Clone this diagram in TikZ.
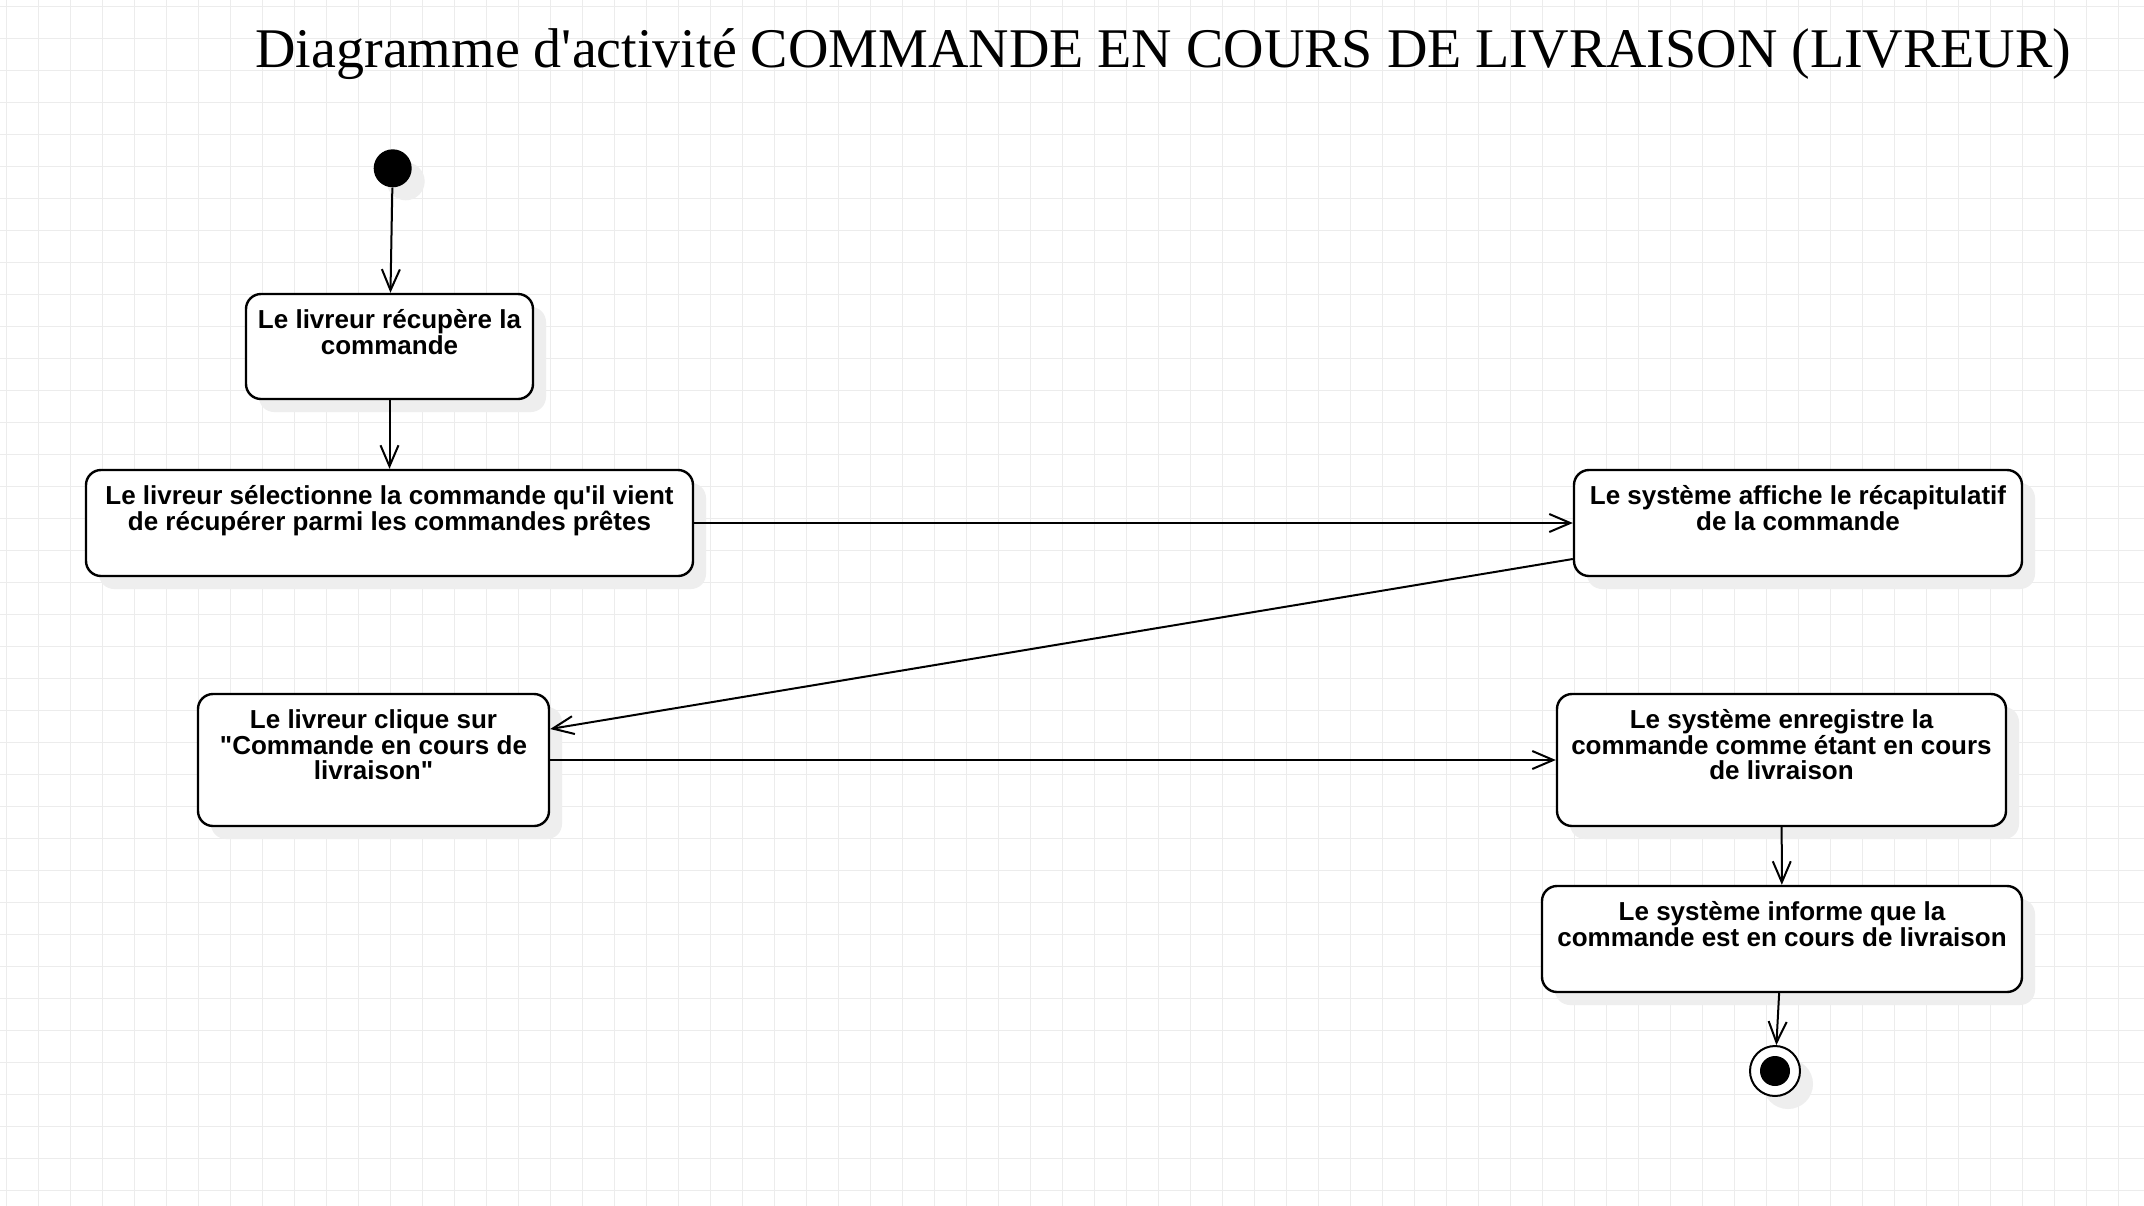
\documentclass[tikz,border=0pt]{standalone}
\usepackage{fontspec}
\setmainfont{Liberation Sans}
\newfontfamily\titlefont{Liberation Serif}
\usetikzlibrary{arrows.meta,shadows}
\definecolor{gridc}{RGB}{236,236,236}
\definecolor{shadowc}{RGB}{238,238,238}
\begin{document}
\begin{tikzpicture}[x=0.5pt,y=-0.5pt,
  shad/.style={drop shadow={shadow xshift=6.5pt,shadow yshift=-6.5pt,fill=shadowc,draw=none,opacity=1}},
  actbox/.style={draw=black,line width=1.2pt,rounded corners=7.5pt,fill=white,inner sep=0pt,shad},
  txt/.style={font=\bfseries\fontsize{13pt}{12.75pt}\selectfont,align=center,inner sep=0pt,anchor=base},
  startnode/.style={circle,fill=black,draw=none,minimum size=19pt,inner sep=0pt,shad},
  endnode/.style={circle,draw=black,line width=1pt,fill=white,minimum size=25pt,inner sep=0pt,shad,
     path picture={\fill[black] (path picture bounding box.center) circle (7.5pt);}},
  arr/.style={draw=black,line width=1pt,-{Straight Barb[length=10.5pt,width=9pt]}}
]
\useasboundingbox (0,0) rectangle (2144,1206);
\fill[white] (0,0) rectangle (2144,1206);
\foreach \i in {0,...,66} \draw[gridc,line width=0.5pt] (6+32*\i,0) -- (6+32*\i,1206);
\foreach \j in {0,...,37} \draw[gridc,line width=0.5pt] (0,6+32*\j) -- (2144,6+32*\j);

\node[font=\titlefont\fontsize{28pt}{34pt}\selectfont,anchor=base,inner sep=0pt] (title) at (1163.5,67)
  {Diagramme d\textquotesingle activité COMMANDE EN COURS DE LIVRAISON (LIVREUR)};

\node[startnode] (start) at (392.7,168.3) {};
\node[actbox,minimum width=143.5pt,minimum height=52.5pt] (b1) at (389.5,346.5) {};
\node[actbox,minimum width=303.5pt,minimum height=53pt] (b2) at (389.5,523) {};
\node[actbox,minimum width=224pt,minimum height=53pt] (b3) at (1798,523) {};
\node[actbox,minimum width=175.5pt,minimum height=66pt] (b4) at (373.5,760) {};
\node[actbox,minimum width=224.5pt,minimum height=66pt] (b5) at (1781.5,760) {};
\node[actbox,minimum width=240pt,minimum height=53pt] (b6) at (1782,939) {};
\node[endnode] (end) at (1775,1071) {};

\node[txt] (t1) at (389.5,354) {Le livreur récupère la\\commande};
\node[txt] (t2) at (389.5,530) {Le livreur sélectionne la commande qu\textquotesingle il vient\\de récupérer parmi les commandes prêtes};
\node[txt] (t3) at (1798,530) {Le système affiche le récapitulatif\\de la commande};
\node[txt] (t4) at (373.5,779.5) {Le livreur clique sur\\\textquotedbl Commande en cours de\\livraison\textquotedbl};
\node[txt] (t5) at (1781.5,779.5) {Le système enregistre la\\commande comme étant en cours\\de livraison};
\node[txt] (t6) at (1782,946) {Le système informe que la\\commande est en cours de livraison};

\draw[arr] (start) -- (b1);
\draw[arr] (b1) -- (b2);
\draw[arr] (b2) -- (b3);
\draw[arr] ([yshift=-18pt]b3.west) -- ([yshift=15.5pt]b4.east);
\draw[arr] (b4) -- (b5);
\draw[arr] (b5) -- (b6);
\draw[arr] (b6) -- (end);
\end{tikzpicture}
\end{document}
